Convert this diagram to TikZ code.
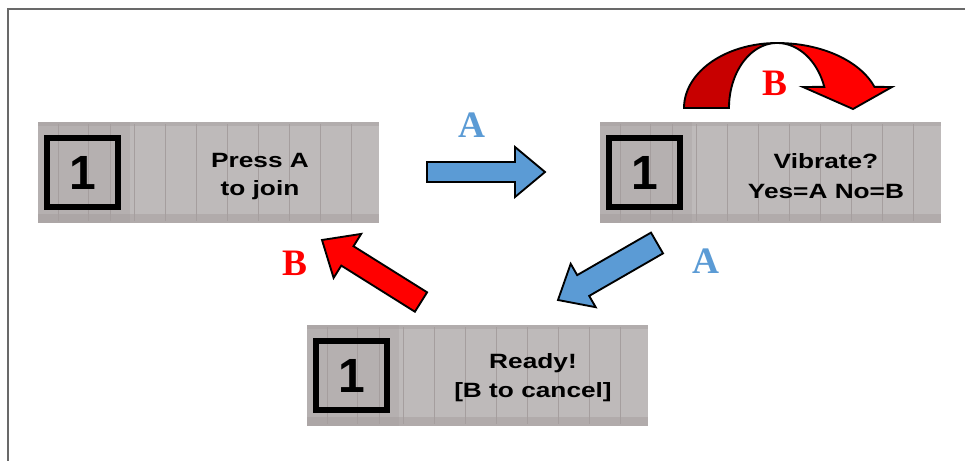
\documentclass[tikz,border=0pt]{standalone}
\usepackage{fontspec}
\setmainfont{Liberation Serif}
\newfontfamily\panelfont[FakeStretch=1.27]{Liberation Sans}
\newfontfamily\digitfont{Liberation Sans}
\newfontfamily\labelfont{Liberation Serif}
\definecolor{panelgray}{RGB}{190,186,186}
\definecolor{panelline}{RGB}{165,158,158}
\definecolor{ablue}{RGB}{91,155,213}
\definecolor{bred}{RGB}{255,0,0}
\definecolor{darkred}{RGB}{200,0,0}
\definecolor{framegray}{RGB}{105,105,105}
\tikzset{
  paneltext/.style={anchor=base, inner sep=0pt, font=\panelfont\bfseries\fontsize{15.5pt}{19pt}\selectfont},
  digit/.style={inner sep=0pt, font=\digitfont\bfseries\fontsize{36pt}{40pt}\selectfont},
  keylabel/.style={inner sep=0pt, font=\labelfont\bfseries\fontsize{28pt}{30pt}\selectfont},
  bluearrow/.style={fill=ablue, draw=black, line width=1.4pt, line join=miter},
  redarrow/.style={fill=bred, draw=black, line width=1.4pt, line join=miter},
  lcd/.pic={
    \fill[panelgray] (0,0) rectangle (341,101);
    \fill[panelline, opacity=0.45] (0,0) rectangle (341,4);
    \fill[panelline, opacity=0.5] (0,92) rectangle (341,101);
    \fill[panelline, opacity=0.35] (0,0) rectangle (92,101);
    \foreach \i in {96,127,158,189,220,251,282,313} {
      \draw[panelline, line width=0.6pt] (\i,2) -- (\i,99);
    }
    \foreach \i in {20,50,72} {
      \draw[panelline, line width=0.5pt] (\i,2) -- (\i,99);
    }
    \draw[black, line width=4.5pt] (9,16) rectangle (80,85);
    \node[digit] at (44.5,50.5) {1};
  }
}
\begin{document}
\begin{tikzpicture}[x=0.75pt,y=-0.75pt]
\useasboundingbox (0,0) rectangle (965,461);
\fill[white] (0,0) rectangle (965,461);
% frame
\draw[framegray, line width=1.5pt] (7.5,461) -- (7.5,8.5) -- (965,8.5);

% panels
\pic (p1) at (38,122) {lcd};
\pic (p2) at (600,122) {lcd};
\pic (p3) at (307,325) {lcd};

\node[paneltext] (t1a) at (260,167) {Press A};
\node[paneltext] (t1b) at (260,195) {to join};
\node[paneltext] (t2a) at (826,168) {Vibrate?};
\node[paneltext] (t2b) at (826,198) {Yes=A No=B};
\node[paneltext] (t3a) at (533,368) {Ready!};
\node[paneltext] (t3b) at (533,397) {[B to cancel]};

% blue arrow right
\filldraw[bluearrow] (427,162) -- (515,162) -- (515,147) -- (545,172) -- (515,197) -- (515,182) -- (427,182) -- cycle;
\node[keylabel, text=ablue] (la1) at (472,125) {A};

% blue arrow down-left
\filldraw[bluearrow] (558,300) -- (570.7,263.8) -- (577.2,275.1) -- (651,232.6) -- (663,253.4) -- (589.2,295.9) -- (595.7,307.2) -- cycle;
\node[keylabel, text=ablue] (la2) at (706,261) {A};

% red arrow up-left
\filldraw[redarrow] (322,240) -- (361.2,233.9) -- (353.5,246.2) -- (427.1,292.3) -- (414.9,311.7) -- (341.3,265.6) -- (333.6,277.9) -- cycle;
\node[keylabel, text=bred] (lb1) at (295,263) {B};

% curved red arrow
\filldraw[fill=darkred, draw=black, line width=1.4pt, line join=miter]
  (684,108) -- plot[domain=180:270, samples=40] ({777+93*cos(\x)},{108+65*sin(\x)})
  -- plot[domain=270:180, samples=40] ({777+48*cos(\x)},{108+65*sin(\x)}) -- cycle;
\filldraw[redarrow]
  (777,43) -- plot[domain=270:341, samples=40] ({777+103*cos(\x)},{108+65*sin(\x)})
  -- (892,87) -- (853,109) -- (803,87)
  -- plot[domain=341:270, samples=40] ({777+50*cos(\x)},{108+65*sin(\x)}) -- cycle;
\node[keylabel, text=bred] (lb2) at (775,83) {B};
\end{tikzpicture}
\end{document}
